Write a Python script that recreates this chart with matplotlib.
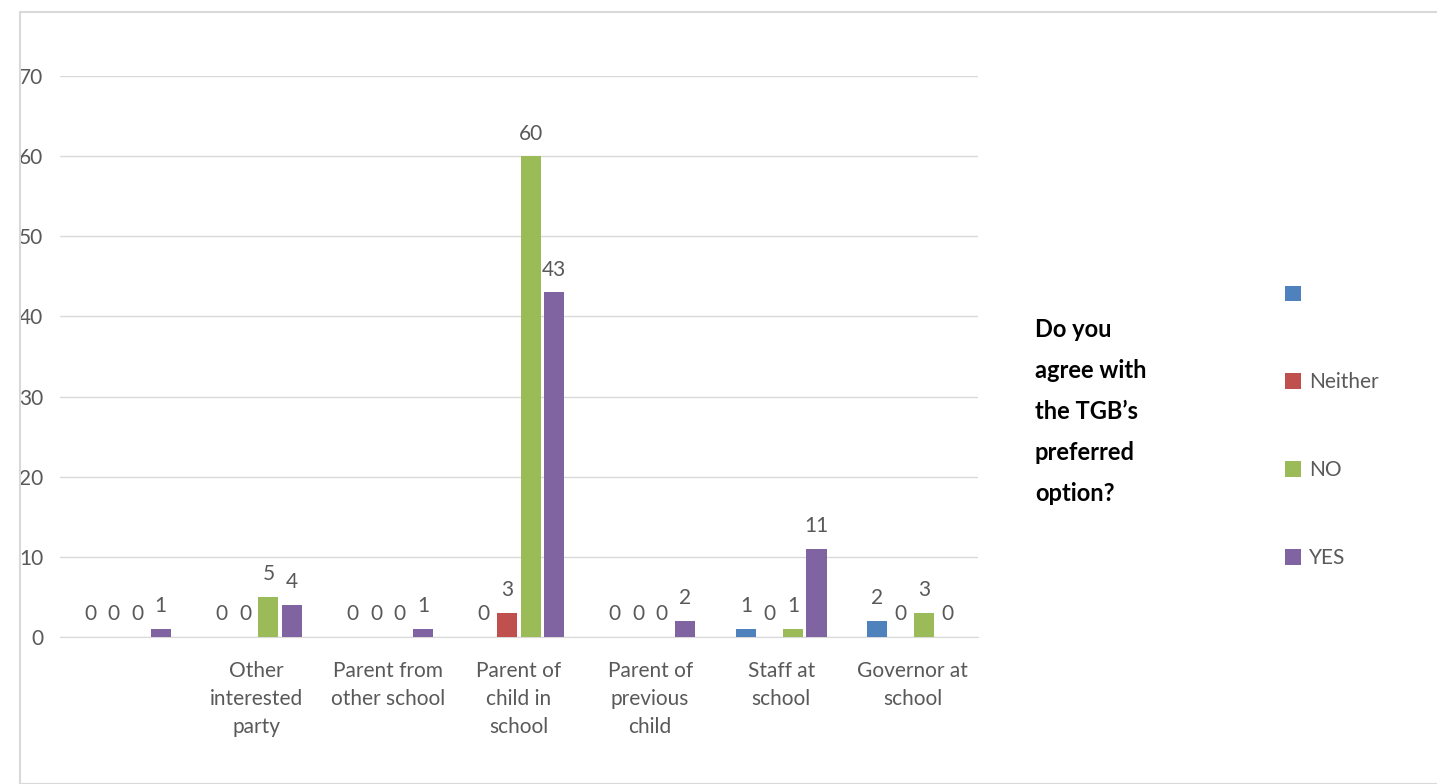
import numpy as np
import matplotlib.pyplot as plt
import matplotlib.patches as patches

categories = ["", "Other\ninterested\nparty", "Parent from\nother school", "Parent of\nchild in\nschool",
              "Parent of\nprevious\nchild", "Staff at\nschool", "Governor at\nschool"]
series_names = [" ", "Neither", "NO", "YES"]
blank = [0, 0, 0, 0, 0, 1, 2]
neither = [0, 0, 0, 3, 0, 0, 0]
no = [0, 5, 0, 60, 0, 1, 3]
yes = [1, 4, 1, 43, 2, 11, 0]
colors = ["#4f81bd", "#c0504d", "#9bbb59", "#8064a2"]

plt.rcParams['font.family'] = ['Lato', 'DejaVu Sans']
grey = "#595959"

fig = plt.figure(figsize=(14.37, 7.84), dpi=100)
fig.patches.append(patches.Rectangle((20 / 1437, 0), 1.0, 1 - 12 / 784, transform=fig.transFigure,
                                     fill=False, edgecolor="#d9d9d9", linewidth=1.5))
ax = fig.add_axes([60 / 1437, 1 - 637 / 784, 918 / 1437, (637 - 76) / 784])

x = np.arange(len(categories))
pitch = 0.179
width = 0.153
handles = []
for k, vals in enumerate([blank, neither, no, yes]):
    pos = x + (k - 1.5) * pitch
    bars = ax.bar(pos, vals, width, color=colors[k], zorder=3)
    handles.append(bars)
    for b, v in zip(bars, vals):
        ax.annotate(str(v), (b.get_x() + b.get_width() / 2, v), xytext=(0, 9),
                    textcoords="offset points", ha="center", va="bottom", fontsize=15, color=grey)

ax.set_xlim(-0.5, len(categories) - 0.5)
ax.set_ylim(0, 70)
ax.set_yticks(np.arange(0, 71, 10))
ax.set_xticks(x)
ax.set_xticklabels(categories, linespacing=1.5, va='top')
ax.tick_params(axis='both', length=0, labelsize=15, labelcolor=grey)
ax.tick_params(axis='y', pad=12)
ax.tick_params(axis='x', pad=17)
ax.grid(axis='y', color="#d9d9d9", linewidth=1, zorder=0)
for s in ['top', 'right', 'left']:
    ax.spines[s].set_visible(False)
ax.spines['bottom'].set_color("#d9d9d9")

fig.text(1035 / 1437, 1 - 318 / 784, "Do you\nagree with\nthe TGB\u2019s\npreferred\noption?",
         fontsize=17, fontweight='bold', color='black', va='top', ha='left', linespacing=1.95)

leg = ax.legend(handles, series_names, loc='upper left', bbox_to_anchor=(1266 / 1437, 1 - 266 / 784),
                bbox_transform=fig.transFigure, frameon=False, fontsize=15, labelspacing=3.25,
                handlelength=0.8, handleheight=0.8, handletextpad=0.35, labelcolor=grey)

fig.savefig("out.png", dpi=100)
